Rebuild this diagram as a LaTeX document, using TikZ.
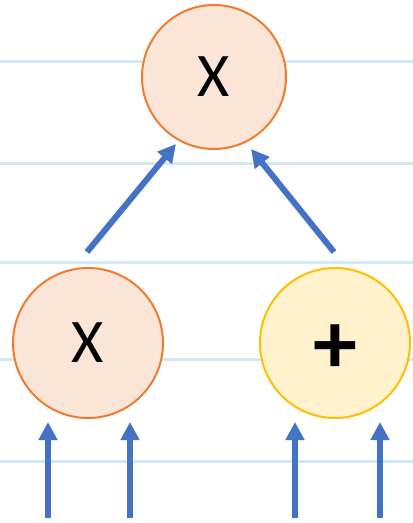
\documentclass[tikz,border=0pt]{standalone}
\usepackage{fontspec}
\setmainfont{Carlito}
\usetikzlibrary{arrows.meta}
\definecolor{arrowblue}{HTML}{4472C4}
\definecolor{ruleblue}{HTML}{D2E8F8}
\definecolor{orangeline}{HTML}{ED7D31}
\definecolor{orangefill}{HTML}{FBE5D6}
\definecolor{yellowline}{HTML}{FFC000}
\definecolor{yellowfill}{HTML}{FFF2CC}
\tikzset{
  rule/.style={ruleblue, line width=3pt},
  opmul/.style={circle, draw=orangeline, fill=orangefill, line width=2pt, inner sep=0pt, font=\fontsize{62}{62}\selectfont},
  opadd/.style={circle, draw=yellowline, fill=yellowfill, line width=2pt, inner sep=0pt, font=\fontsize{88}{88}\selectfont\bfseries},
  flow/.style={arrowblue, line width=6pt, -{Triangle[length=18pt,width=18pt]}}
}
\begin{document}
\begin{tikzpicture}[x=1pt,y=-1pt]
\useasboundingbox (0,0) rectangle (413,523);
\foreach \yy in {61,163,262,359,461} \draw[rule] (0,\yy) -- (413,\yy);
\node[opmul, minimum size=144pt] (top) at (214,77) {X};
\node[opmul, minimum size=150pt] (left) at (88,343) {X};
\node[opadd, minimum size=150pt] (right) at (335,343) {};
\node[font=\fontsize{88}{88}\selectfont\bfseries, inner sep=0pt] (plus) at (335,349) {+};
\coordinate (l1) at (87,252);
\coordinate (l1t) at (176,144);
\coordinate (r1) at (334,252);
\coordinate (r1t) at (251,149);
\draw[flow] (l1) -- (l1t);
\draw[flow] (r1) -- (r1t);
\foreach \xx/\nm in {48/a,130/b,295/c,380/d} {
  \coordinate (\nm s) at (\xx,518);
  \coordinate (\nm t) at (\xx,422);
  \draw[flow] (\nm s) -- (\nm t);
}
\end{tikzpicture}
\end{document}
